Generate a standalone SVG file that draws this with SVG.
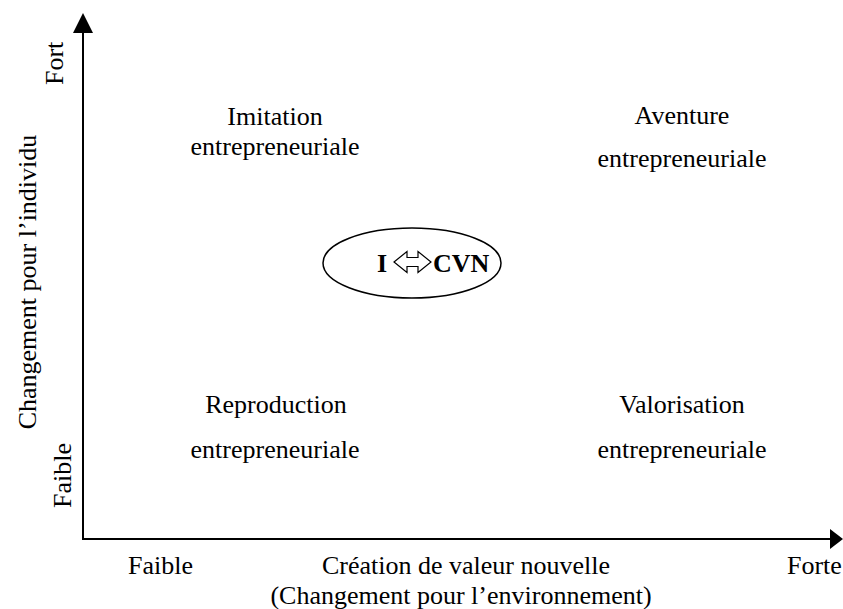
<svg xmlns="http://www.w3.org/2000/svg" width="843" height="609" viewBox="0 0 843 609">
<style>
text{font-family:"Liberation Serif","Times New Roman",serif;font-size:26px;fill:#000}
.m{text-anchor:middle}
.b{font-weight:bold;font-size:26px}
.ax{stroke:#000;stroke-width:2;fill:none}
</style>
<rect width="843" height="609" fill="#fff"/>
<g id="axes">
<line class="ax" x1="83" y1="539" x2="83" y2="30"/>
<polygon points="83,13 73,33 93,33" fill="#000"/>
<line class="ax" x1="82" y1="539" x2="832" y2="539"/>
<polygon points="843,539 830,529 830,549" fill="#000"/>
</g>
<g id="y-labels">
<text transform="translate(63,85) rotate(-90)">Fort</text>
<text transform="translate(71,508) rotate(-90)">Faible</text>
<text class="m" transform="translate(36,282) rotate(-90)">Changement pour l’individu</text>
</g>
<g id="x-labels">
<text x="128" y="574">Faible</text>
<text class="m" x="466" y="574">Création de valeur nouvelle</text>
<text class="m" x="461" y="604">(Changement pour l’environnement)</text>
<text x="787" y="574">Forte</text>
</g>
<g id="imitation">
<text class="m" x="275" y="125">Imitation</text>
<text class="m" x="275" y="155">entrepreneuriale</text>
</g>
<g id="aventure">
<text class="m" x="682" y="124">Aventure</text>
<text class="m" x="682" y="167">entrepreneuriale</text>
</g>
<g id="reproduction">
<text class="m" x="276" y="413">Reproduction</text>
<text class="m" x="275" y="458">entrepreneuriale</text>
</g>
<g id="valorisation">
<text class="m" x="682" y="413">Valorisation</text>
<text class="m" x="682" y="458">entrepreneuriale</text>
</g>
<g id="center">
<ellipse cx="412" cy="263" rx="89" ry="35" fill="none" stroke="#000" stroke-width="1.5"/>
<text class="b" x="377" y="272">I</text>
<path d="M394,262 L407,251.5 L407,257.5 L418,257.5 L418,251.5 L431,262 L418,272.5 L418,266.5 L407,266.5 L407,272.5 Z" fill="#fff" stroke="#000" stroke-width="1.2"/>
<text class="b" x="433" y="272">CVN</text>
</g>
</svg>
